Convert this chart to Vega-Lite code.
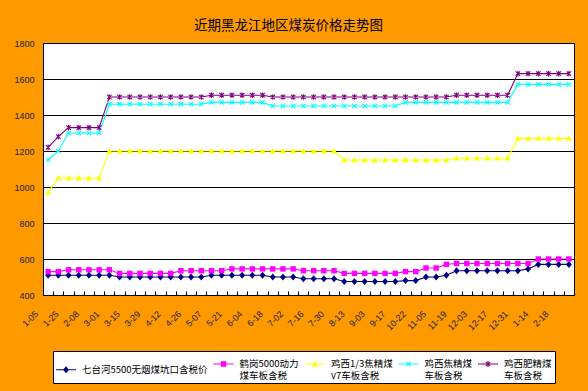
{
  "$schema": "https://vega.github.io/schema/vega-lite/v6.json",
  "autosize": "none",
  "width": 531,
  "height": 252,
  "padding": {"left": 43, "top": 43, "right": 14, "bottom": 96},
  "background": "#FF9900",
  "title": {"text": "近期黑龙江地区煤炭价格走势图", "font": "Noto Sans CJK SC", "fontSize": 13.5, "fontWeight": "normal", "color": "#000000", "anchor": "middle", "dx": -20, "offset": 7},
  "config": {"view": {"fill": "white", "stroke": "black", "strokeWidth": 1}, "style": {"guide-label": {"lineHeight": 11.5}}},
  "data": {"values": [
    {"d":"1-05","s":"七台河5500无烟煤坑口含税价","v":510},{"d":"1-15","s":"七台河5500无烟煤坑口含税价","v":510},{"d":"1-25","s":"七台河5500无烟煤坑口含税价","v":510},{"d":"2-01","s":"七台河5500无烟煤坑口含税价","v":510},{"d":"2-08","s":"七台河5500无烟煤坑口含税价","v":510},{"d":"2-22","s":"七台河5500无烟煤坑口含税价","v":510},{"d":"3-01","s":"七台河5500无烟煤坑口含税价","v":510},{"d":"3-08","s":"七台河5500无烟煤坑口含税价","v":500},{"d":"3-15","s":"七台河5500无烟煤坑口含税价","v":500},{"d":"3-22","s":"七台河5500无烟煤坑口含税价","v":500},{"d":"3-29","s":"七台河5500无烟煤坑口含税价","v":500},{"d":"4-05","s":"七台河5500无烟煤坑口含税价","v":500},{"d":"4-12","s":"七台河5500无烟煤坑口含税价","v":500},{"d":"4-19","s":"七台河5500无烟煤坑口含税价","v":500},{"d":"4-26","s":"七台河5500无烟煤坑口含税价","v":500},{"d":"5-03","s":"七台河5500无烟煤坑口含税价","v":500},{"d":"5-07","s":"七台河5500无烟煤坑口含税价","v":510},{"d":"5-14","s":"七台河5500无烟煤坑口含税价","v":510},{"d":"5-21","s":"七台河5500无烟煤坑口含税价","v":510},{"d":"5-28","s":"七台河5500无烟煤坑口含税价","v":510},{"d":"6-04","s":"七台河5500无烟煤坑口含税价","v":510},{"d":"6-11","s":"七台河5500无烟煤坑口含税价","v":510},{"d":"6-18","s":"七台河5500无烟煤坑口含税价","v":500},{"d":"6-25","s":"七台河5500无烟煤坑口含税价","v":500},{"d":"7-02","s":"七台河5500无烟煤坑口含税价","v":500},{"d":"7-09","s":"七台河5500无烟煤坑口含税价","v":490},{"d":"7-16","s":"七台河5500无烟煤坑口含税价","v":490},{"d":"7-23","s":"七台河5500无烟煤坑口含税价","v":490},{"d":"7-30","s":"七台河5500无烟煤坑口含税价","v":490},{"d":"8-06","s":"七台河5500无烟煤坑口含税价","v":475},{"d":"8-13","s":"七台河5500无烟煤坑口含税价","v":475},{"d":"8-20","s":"七台河5500无烟煤坑口含税价","v":475},{"d":"9-03","s":"七台河5500无烟煤坑口含税价","v":475},{"d":"9-10","s":"七台河5500无烟煤坑口含税价","v":475},{"d":"9-17","s":"七台河5500无烟煤坑口含税价","v":475},{"d":"9-24","s":"七台河5500无烟煤坑口含税价","v":480},{"d":"10-22","s":"七台河5500无烟煤坑口含税价","v":480},{"d":"10-29","s":"七台河5500无烟煤坑口含税价","v":500},{"d":"11-05","s":"七台河5500无烟煤坑口含税价","v":500},{"d":"11-12","s":"七台河5500无烟煤坑口含税价","v":510},{"d":"11-19","s":"七台河5500无烟煤坑口含税价","v":535},{"d":"11-26","s":"七台河5500无烟煤坑口含税价","v":535},{"d":"12-03","s":"七台河5500无烟煤坑口含税价","v":535},{"d":"12-10","s":"七台河5500无烟煤坑口含税价","v":535},{"d":"12-17","s":"七台河5500无烟煤坑口含税价","v":535},{"d":"12-24","s":"七台河5500无烟煤坑口含税价","v":535},{"d":"12-31","s":"七台河5500无烟煤坑口含税价","v":535},{"d":"1-07","s":"七台河5500无烟煤坑口含税价","v":545},{"d":"1-14","s":"七台河5500无烟煤坑口含税价","v":570},{"d":"1-28","s":"七台河5500无烟煤坑口含税价","v":570},{"d":"2-18","s":"七台河5500无烟煤坑口含税价","v":570},{"d":"2-25","s":"七台河5500无烟煤坑口含税价","v":570},
    {"d":"1-05","s":"鹤岗5000动力\n煤车板含税","v":530},{"d":"1-15","s":"鹤岗5000动力\n煤车板含税","v":530},{"d":"1-25","s":"鹤岗5000动力\n煤车板含税","v":540},{"d":"2-01","s":"鹤岗5000动力\n煤车板含税","v":540},{"d":"2-08","s":"鹤岗5000动力\n煤车板含税","v":540},{"d":"2-22","s":"鹤岗5000动力\n煤车板含税","v":540},{"d":"3-01","s":"鹤岗5000动力\n煤车板含税","v":540},{"d":"3-08","s":"鹤岗5000动力\n煤车板含税","v":520},{"d":"3-15","s":"鹤岗5000动力\n煤车板含税","v":520},{"d":"3-22","s":"鹤岗5000动力\n煤车板含税","v":520},{"d":"3-29","s":"鹤岗5000动力\n煤车板含税","v":520},{"d":"4-05","s":"鹤岗5000动力\n煤车板含税","v":520},{"d":"4-12","s":"鹤岗5000动力\n煤车板含税","v":520},{"d":"4-19","s":"鹤岗5000动力\n煤车板含税","v":535},{"d":"4-26","s":"鹤岗5000动力\n煤车板含税","v":535},{"d":"5-03","s":"鹤岗5000动力\n煤车板含税","v":535},{"d":"5-07","s":"鹤岗5000动力\n煤车板含税","v":535},{"d":"5-14","s":"鹤岗5000动力\n煤车板含税","v":535},{"d":"5-21","s":"鹤岗5000动力\n煤车板含税","v":545},{"d":"5-28","s":"鹤岗5000动力\n煤车板含税","v":545},{"d":"6-04","s":"鹤岗5000动力\n煤车板含税","v":545},{"d":"6-11","s":"鹤岗5000动力\n煤车板含税","v":545},{"d":"6-18","s":"鹤岗5000动力\n煤车板含税","v":545},{"d":"6-25","s":"鹤岗5000动力\n煤车板含税","v":545},{"d":"7-02","s":"鹤岗5000动力\n煤车板含税","v":545},{"d":"7-09","s":"鹤岗5000动力\n煤车板含税","v":535},{"d":"7-16","s":"鹤岗5000动力\n煤车板含税","v":535},{"d":"7-23","s":"鹤岗5000动力\n煤车板含税","v":535},{"d":"7-30","s":"鹤岗5000动力\n煤车板含税","v":535},{"d":"8-06","s":"鹤岗5000动力\n煤车板含税","v":520},{"d":"8-13","s":"鹤岗5000动力\n煤车板含税","v":520},{"d":"8-20","s":"鹤岗5000动力\n煤车板含税","v":520},{"d":"9-03","s":"鹤岗5000动力\n煤车板含税","v":520},{"d":"9-10","s":"鹤岗5000动力\n煤车板含税","v":520},{"d":"9-17","s":"鹤岗5000动力\n煤车板含税","v":520},{"d":"9-24","s":"鹤岗5000动力\n煤车板含税","v":530},{"d":"10-22","s":"鹤岗5000动力\n煤车板含税","v":530},{"d":"10-29","s":"鹤岗5000动力\n煤车板含税","v":550},{"d":"11-05","s":"鹤岗5000动力\n煤车板含税","v":550},{"d":"11-12","s":"鹤岗5000动力\n煤车板含税","v":570},{"d":"11-19","s":"鹤岗5000动力\n煤车板含税","v":575},{"d":"11-26","s":"鹤岗5000动力\n煤车板含税","v":575},{"d":"12-03","s":"鹤岗5000动力\n煤车板含税","v":575},{"d":"12-10","s":"鹤岗5000动力\n煤车板含税","v":575},{"d":"12-17","s":"鹤岗5000动力\n煤车板含税","v":575},{"d":"12-24","s":"鹤岗5000动力\n煤车板含税","v":575},{"d":"12-31","s":"鹤岗5000动力\n煤车板含税","v":575},{"d":"1-07","s":"鹤岗5000动力\n煤车板含税","v":575},{"d":"1-14","s":"鹤岗5000动力\n煤车板含税","v":600},{"d":"1-28","s":"鹤岗5000动力\n煤车板含税","v":600},{"d":"2-18","s":"鹤岗5000动力\n煤车板含税","v":600},{"d":"2-25","s":"鹤岗5000动力\n煤车板含税","v":600},
    {"d":"1-05","s":"鸡西1/3焦精煤\nv7车板含税","v":970},{"d":"1-15","s":"鸡西1/3焦精煤\nv7车板含税","v":1050},{"d":"1-25","s":"鸡西1/3焦精煤\nv7车板含税","v":1050},{"d":"2-01","s":"鸡西1/3焦精煤\nv7车板含税","v":1050},{"d":"2-08","s":"鸡西1/3焦精煤\nv7车板含税","v":1050},{"d":"2-22","s":"鸡西1/3焦精煤\nv7车板含税","v":1050},{"d":"3-01","s":"鸡西1/3焦精煤\nv7车板含税","v":1200},{"d":"3-08","s":"鸡西1/3焦精煤\nv7车板含税","v":1200},{"d":"3-15","s":"鸡西1/3焦精煤\nv7车板含税","v":1200},{"d":"3-22","s":"鸡西1/3焦精煤\nv7车板含税","v":1200},{"d":"3-29","s":"鸡西1/3焦精煤\nv7车板含税","v":1200},{"d":"4-05","s":"鸡西1/3焦精煤\nv7车板含税","v":1200},{"d":"4-12","s":"鸡西1/3焦精煤\nv7车板含税","v":1200},{"d":"4-19","s":"鸡西1/3焦精煤\nv7车板含税","v":1200},{"d":"4-26","s":"鸡西1/3焦精煤\nv7车板含税","v":1200},{"d":"5-03","s":"鸡西1/3焦精煤\nv7车板含税","v":1200},{"d":"5-07","s":"鸡西1/3焦精煤\nv7车板含税","v":1200},{"d":"5-14","s":"鸡西1/3焦精煤\nv7车板含税","v":1200},{"d":"5-21","s":"鸡西1/3焦精煤\nv7车板含税","v":1200},{"d":"5-28","s":"鸡西1/3焦精煤\nv7车板含税","v":1200},{"d":"6-04","s":"鸡西1/3焦精煤\nv7车板含税","v":1200},{"d":"6-11","s":"鸡西1/3焦精煤\nv7车板含税","v":1200},{"d":"6-18","s":"鸡西1/3焦精煤\nv7车板含税","v":1200},{"d":"6-25","s":"鸡西1/3焦精煤\nv7车板含税","v":1200},{"d":"7-02","s":"鸡西1/3焦精煤\nv7车板含税","v":1200},{"d":"7-09","s":"鸡西1/3焦精煤\nv7车板含税","v":1200},{"d":"7-16","s":"鸡西1/3焦精煤\nv7车板含税","v":1200},{"d":"7-23","s":"鸡西1/3焦精煤\nv7车板含税","v":1200},{"d":"7-30","s":"鸡西1/3焦精煤\nv7车板含税","v":1200},{"d":"8-06","s":"鸡西1/3焦精煤\nv7车板含税","v":1150},{"d":"8-13","s":"鸡西1/3焦精煤\nv7车板含税","v":1150},{"d":"8-20","s":"鸡西1/3焦精煤\nv7车板含税","v":1150},{"d":"9-03","s":"鸡西1/3焦精煤\nv7车板含税","v":1150},{"d":"9-10","s":"鸡西1/3焦精煤\nv7车板含税","v":1150},{"d":"9-17","s":"鸡西1/3焦精煤\nv7车板含税","v":1150},{"d":"9-24","s":"鸡西1/3焦精煤\nv7车板含税","v":1150},{"d":"10-22","s":"鸡西1/3焦精煤\nv7车板含税","v":1150},{"d":"10-29","s":"鸡西1/3焦精煤\nv7车板含税","v":1150},{"d":"11-05","s":"鸡西1/3焦精煤\nv7车板含税","v":1150},{"d":"11-12","s":"鸡西1/3焦精煤\nv7车板含税","v":1150},{"d":"11-19","s":"鸡西1/3焦精煤\nv7车板含税","v":1160},{"d":"11-26","s":"鸡西1/3焦精煤\nv7车板含税","v":1160},{"d":"12-03","s":"鸡西1/3焦精煤\nv7车板含税","v":1160},{"d":"12-10","s":"鸡西1/3焦精煤\nv7车板含税","v":1160},{"d":"12-17","s":"鸡西1/3焦精煤\nv7车板含税","v":1160},{"d":"12-24","s":"鸡西1/3焦精煤\nv7车板含税","v":1160},{"d":"12-31","s":"鸡西1/3焦精煤\nv7车板含税","v":1270},{"d":"1-07","s":"鸡西1/3焦精煤\nv7车板含税","v":1270},{"d":"1-14","s":"鸡西1/3焦精煤\nv7车板含税","v":1270},{"d":"1-28","s":"鸡西1/3焦精煤\nv7车板含税","v":1270},{"d":"2-18","s":"鸡西1/3焦精煤\nv7车板含税","v":1270},{"d":"2-25","s":"鸡西1/3焦精煤\nv7车板含税","v":1270},
    {"d":"1-05","s":"鸡西焦精煤\n车板含税","v":1150},{"d":"1-15","s":"鸡西焦精煤\n车板含税","v":1200},{"d":"1-25","s":"鸡西焦精煤\n车板含税","v":1300},{"d":"2-01","s":"鸡西焦精煤\n车板含税","v":1300},{"d":"2-08","s":"鸡西焦精煤\n车板含税","v":1300},{"d":"2-22","s":"鸡西焦精煤\n车板含税","v":1300},{"d":"3-01","s":"鸡西焦精煤\n车板含税","v":1460},{"d":"3-08","s":"鸡西焦精煤\n车板含税","v":1460},{"d":"3-15","s":"鸡西焦精煤\n车板含税","v":1460},{"d":"3-22","s":"鸡西焦精煤\n车板含税","v":1460},{"d":"3-29","s":"鸡西焦精煤\n车板含税","v":1460},{"d":"4-05","s":"鸡西焦精煤\n车板含税","v":1460},{"d":"4-12","s":"鸡西焦精煤\n车板含税","v":1460},{"d":"4-19","s":"鸡西焦精煤\n车板含税","v":1460},{"d":"4-26","s":"鸡西焦精煤\n车板含税","v":1460},{"d":"5-03","s":"鸡西焦精煤\n车板含税","v":1460},{"d":"5-07","s":"鸡西焦精煤\n车板含税","v":1470},{"d":"5-14","s":"鸡西焦精煤\n车板含税","v":1470},{"d":"5-21","s":"鸡西焦精煤\n车板含税","v":1470},{"d":"5-28","s":"鸡西焦精煤\n车板含税","v":1470},{"d":"6-04","s":"鸡西焦精煤\n车板含税","v":1470},{"d":"6-11","s":"鸡西焦精煤\n车板含税","v":1470},{"d":"6-18","s":"鸡西焦精煤\n车板含税","v":1450},{"d":"6-25","s":"鸡西焦精煤\n车板含税","v":1450},{"d":"7-02","s":"鸡西焦精煤\n车板含税","v":1450},{"d":"7-09","s":"鸡西焦精煤\n车板含税","v":1450},{"d":"7-16","s":"鸡西焦精煤\n车板含税","v":1450},{"d":"7-23","s":"鸡西焦精煤\n车板含税","v":1450},{"d":"7-30","s":"鸡西焦精煤\n车板含税","v":1450},{"d":"8-06","s":"鸡西焦精煤\n车板含税","v":1450},{"d":"8-13","s":"鸡西焦精煤\n车板含税","v":1450},{"d":"8-20","s":"鸡西焦精煤\n车板含税","v":1450},{"d":"9-03","s":"鸡西焦精煤\n车板含税","v":1450},{"d":"9-10","s":"鸡西焦精煤\n车板含税","v":1450},{"d":"9-17","s":"鸡西焦精煤\n车板含税","v":1450},{"d":"9-24","s":"鸡西焦精煤\n车板含税","v":1470},{"d":"10-22","s":"鸡西焦精煤\n车板含税","v":1470},{"d":"10-29","s":"鸡西焦精煤\n车板含税","v":1470},{"d":"11-05","s":"鸡西焦精煤\n车板含税","v":1470},{"d":"11-12","s":"鸡西焦精煤\n车板含税","v":1470},{"d":"11-19","s":"鸡西焦精煤\n车板含税","v":1470},{"d":"11-26","s":"鸡西焦精煤\n车板含税","v":1470},{"d":"12-03","s":"鸡西焦精煤\n车板含税","v":1470},{"d":"12-10","s":"鸡西焦精煤\n车板含税","v":1470},{"d":"12-17","s":"鸡西焦精煤\n车板含税","v":1470},{"d":"12-24","s":"鸡西焦精煤\n车板含税","v":1470},{"d":"12-31","s":"鸡西焦精煤\n车板含税","v":1570},{"d":"1-07","s":"鸡西焦精煤\n车板含税","v":1570},{"d":"1-14","s":"鸡西焦精煤\n车板含税","v":1570},{"d":"1-28","s":"鸡西焦精煤\n车板含税","v":1570},{"d":"2-18","s":"鸡西焦精煤\n车板含税","v":1570},{"d":"2-25","s":"鸡西焦精煤\n车板含税","v":1570},
    {"d":"1-05","s":"鸡西肥精煤\n车板含税","v":1220},{"d":"1-15","s":"鸡西肥精煤\n车板含税","v":1280},{"d":"1-25","s":"鸡西肥精煤\n车板含税","v":1330},{"d":"2-01","s":"鸡西肥精煤\n车板含税","v":1330},{"d":"2-08","s":"鸡西肥精煤\n车板含税","v":1330},{"d":"2-22","s":"鸡西肥精煤\n车板含税","v":1330},{"d":"3-01","s":"鸡西肥精煤\n车板含税","v":1500},{"d":"3-08","s":"鸡西肥精煤\n车板含税","v":1500},{"d":"3-15","s":"鸡西肥精煤\n车板含税","v":1500},{"d":"3-22","s":"鸡西肥精煤\n车板含税","v":1500},{"d":"3-29","s":"鸡西肥精煤\n车板含税","v":1500},{"d":"4-05","s":"鸡西肥精煤\n车板含税","v":1500},{"d":"4-12","s":"鸡西肥精煤\n车板含税","v":1500},{"d":"4-19","s":"鸡西肥精煤\n车板含税","v":1500},{"d":"4-26","s":"鸡西肥精煤\n车板含税","v":1500},{"d":"5-03","s":"鸡西肥精煤\n车板含税","v":1500},{"d":"5-07","s":"鸡西肥精煤\n车板含税","v":1510},{"d":"5-14","s":"鸡西肥精煤\n车板含税","v":1510},{"d":"5-21","s":"鸡西肥精煤\n车板含税","v":1510},{"d":"5-28","s":"鸡西肥精煤\n车板含税","v":1510},{"d":"6-04","s":"鸡西肥精煤\n车板含税","v":1510},{"d":"6-11","s":"鸡西肥精煤\n车板含税","v":1510},{"d":"6-18","s":"鸡西肥精煤\n车板含税","v":1500},{"d":"6-25","s":"鸡西肥精煤\n车板含税","v":1500},{"d":"7-02","s":"鸡西肥精煤\n车板含税","v":1500},{"d":"7-09","s":"鸡西肥精煤\n车板含税","v":1500},{"d":"7-16","s":"鸡西肥精煤\n车板含税","v":1500},{"d":"7-23","s":"鸡西肥精煤\n车板含税","v":1500},{"d":"7-30","s":"鸡西肥精煤\n车板含税","v":1500},{"d":"8-06","s":"鸡西肥精煤\n车板含税","v":1500},{"d":"8-13","s":"鸡西肥精煤\n车板含税","v":1500},{"d":"8-20","s":"鸡西肥精煤\n车板含税","v":1500},{"d":"9-03","s":"鸡西肥精煤\n车板含税","v":1500},{"d":"9-10","s":"鸡西肥精煤\n车板含税","v":1500},{"d":"9-17","s":"鸡西肥精煤\n车板含税","v":1500},{"d":"9-24","s":"鸡西肥精煤\n车板含税","v":1500},{"d":"10-22","s":"鸡西肥精煤\n车板含税","v":1500},{"d":"10-29","s":"鸡西肥精煤\n车板含税","v":1500},{"d":"11-05","s":"鸡西肥精煤\n车板含税","v":1500},{"d":"11-12","s":"鸡西肥精煤\n车板含税","v":1500},{"d":"11-19","s":"鸡西肥精煤\n车板含税","v":1510},{"d":"11-26","s":"鸡西肥精煤\n车板含税","v":1510},{"d":"12-03","s":"鸡西肥精煤\n车板含税","v":1510},{"d":"12-10","s":"鸡西肥精煤\n车板含税","v":1510},{"d":"12-17","s":"鸡西肥精煤\n车板含税","v":1510},{"d":"12-24","s":"鸡西肥精煤\n车板含税","v":1510},{"d":"12-31","s":"鸡西肥精煤\n车板含税","v":1630},{"d":"1-07","s":"鸡西肥精煤\n车板含税","v":1630},{"d":"1-14","s":"鸡西肥精煤\n车板含税","v":1630},{"d":"1-28","s":"鸡西肥精煤\n车板含税","v":1630},{"d":"2-18","s":"鸡西肥精煤\n车板含税","v":1630},{"d":"2-25","s":"鸡西肥精煤\n车板含税","v":1630}
  ]},
  "encoding": {
    "x": {"field": "d", "type": "ordinal", "sort": null, "scale": {"type": "point", "padding": 0.5},
      "axis": {"title": null, "labelAngle": -45, "labelAlign": "right", "labelBaseline": "middle", "labelExpr": "round(datum.index * 51) % 2 ? '' : datum.label", "labelOverlap": false, "labelPadding": 21, "tickOffset": 5.1, "labelOffset": -17, "tickSize": -4, "tickColor": "black", "domainColor": "black", "labelFont": "Liberation Sans", "labelFontSize": 9, "labelColor": "#222222", "grid": false}},
    "y": {"field": "v", "type": "quantitative", "scale": {"domain": [400, 1800], "nice": false, "zero": false},
      "axis": {"title": null, "values": [400, 600, 800, 1000, 1200, 1400, 1600, 1800], "format": "d", "grid": true, "gridColor": "black", "gridOpacity": 1, "ticks": false, "labelPadding": 9, "domainColor": "black", "labelFont": "Liberation Sans", "labelFontSize": 9, "labelColor": "#222222"}}
  },
  "layer": [
    {"mark": {"type": "line", "strokeWidth": 1.1},
      "encoding": {"color": {"field": "s", "type": "nominal", "legend": null, "sort": ["七台河5500无烟煤坑口含税价", "鹤岗5000动力\n煤车板含税", "鸡西1/3焦精煤\nv7车板含税", "鸡西焦精煤\n车板含税", "鸡西肥精煤\n车板含税"],
        "scale": {"range": ["#000080", "#FF00FF", "#FFFF00", "#00FFFF", "#800080"]}}}},
    {"mark": {"type": "point", "filled": true, "opacity": 0, "size": 400},
      "encoding": {
        "fill": {"field": "s", "type": "nominal",
          "scale": {"domain": ["七台河5500无烟煤坑口含税价", "鹤岗5000动力\n煤车板含税", "鸡西1/3焦精煤\nv7车板含税", "鸡西焦精煤\n车板含税", "鸡西肥精煤\n车板含税"], "range": ["#000080", "#FF00FF", "#FFFF00", "#00FFFF", "#800080"]},
          "legend": {"orient": "none", "legendX": 10, "legendY": 308, "direction": "horizontal", "columns": 5, "title": null, "symbolSize": 400, "symbolOpacity": 1, "symbolStrokeWidth": 0, "labelExpr": "split(datum.label, '\\n')", "labelFont": "Noto Sans CJK SC", "labelFontSize": 9.5, "labelColor": "black", "labelLimit": 300, "labelOffset": 6, "columnPadding": 5.5, "padding": 3, "fillColor": "white", "strokeColor": "black"}},
        "shape": {"field": "s", "type": "nominal",
          "scale": {"domain": ["七台河5500无烟煤坑口含税价", "鹤岗5000动力\n煤车板含税", "鸡西1/3焦精煤\nv7车板含税", "鸡西焦精煤\n车板含税", "鸡西肥精煤\n车板含税"],
            "range": [
              "M-1,-0.05V0.05H1V-0.05ZM0,-0.35L-0.3,0L0,0.35L0.3,0Z",
              "M-1,-0.05V0.05H1V-0.05ZM-0.27,-0.27V0.27H0.27V-0.27Z",
              "M-1,-0.05V0.05H1V-0.05ZM0,-0.32L-0.3,0.24L0.3,0.24Z",
              "M-1,-0.05V0.05H1V-0.05ZM-0.255,-0.185L0.185,0.255L0.255,0.185L-0.185,-0.255ZM-0.185,0.255L0.255,-0.185L0.185,-0.255L-0.255,0.185Z",
              "M-1,-0.05V0.05H1V-0.05ZM-0.255,-0.185L0.185,0.255L0.255,0.185L-0.185,-0.255ZM-0.185,0.255L0.255,-0.185L0.185,-0.255L-0.255,0.185ZM-0.05,-0.3V0.3H0.05V-0.3Z"]},
          "legend": {"orient": "none", "legendX": 10, "legendY": 308, "direction": "horizontal", "columns": 5, "title": null, "symbolSize": 400, "symbolOpacity": 1, "symbolStrokeWidth": 0, "labelExpr": "split(datum.label, '\\n')", "labelFont": "Noto Sans CJK SC", "labelFontSize": 9.5, "labelColor": "black", "labelLimit": 300, "labelOffset": 6, "columnPadding": 5.5, "padding": 3, "fillColor": "white", "strokeColor": "black"}}}},
    {"transform": [{"filter": {"field": "s", "equal": "七台河5500无烟煤坑口含税价"}}],
      "mark": {"type": "point", "filled": true, "opacity": 1, "size": 400, "color": "#000080", "shape": "M0,-0.35L0.3,0L0,0.35L-0.3,0Z"}},
    {"transform": [{"filter": {"field": "s", "equal": "鹤岗5000动力\n煤车板含税"}}],
      "mark": {"type": "point", "filled": true, "opacity": 1, "size": 400, "color": "#FF00FF", "shape": "M-0.27,-0.27H0.27V0.27H-0.27Z"}},
    {"transform": [{"filter": {"field": "s", "equal": "鸡西1/3焦精煤\nv7车板含税"}}],
      "mark": {"type": "point", "filled": true, "opacity": 1, "size": 400, "color": "#FFFF00", "shape": "M0,-0.32L0.3,0.24L-0.3,0.24Z"}},
    {"transform": [{"filter": {"field": "s", "equal": "鸡西焦精煤\n车板含税"}}],
      "mark": {"type": "point", "filled": false, "opacity": 1, "size": 400, "strokeWidth": 1.1, "color": "#00FFFF", "shape": "M-0.22,-0.22L0.22,0.22M-0.22,0.22L0.22,-0.22"}},
    {"transform": [{"filter": {"field": "s", "equal": "鸡西肥精煤\n车板含税"}}],
      "mark": {"type": "point", "filled": false, "opacity": 1, "size": 400, "strokeWidth": 1.1, "color": "#800080", "shape": "M-0.22,-0.22L0.22,0.22M-0.22,0.22L0.22,-0.22M0,-0.28V0.28"}}
  ]
}
